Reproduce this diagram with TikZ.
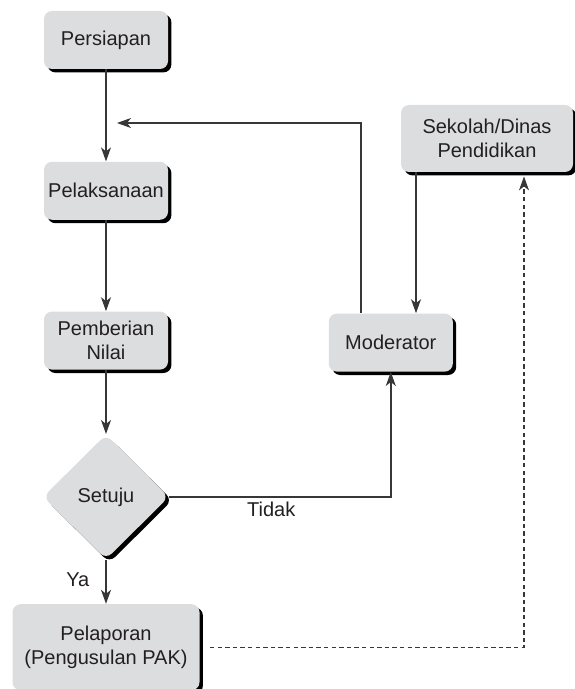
\documentclass[tikz,border=0pt]{standalone}
\usepackage{fontspec}
\setmainfont{Liberation Sans}
\usepackage{xcolor}
\usepackage{tikz}
\usetikzlibrary{arrows.meta,positioning,shapes.geometric,shadows}
\definecolor{boxgray} {RGB}{220,221,223}
\definecolor{txtgray} {RGB}{35,31,32}
\definecolor{linegray}{RGB}{55,55,55}
\tikzset{
  procbox/.style={fill=boxgray, rounded corners=4pt, align=center,
                  minimum width=62pt, minimum height=29pt,
                  font=\fontsize{10}{12}\selectfont, text=txtgray, inner sep=2pt,
                  drop shadow={shadow xshift=1.7pt, shadow yshift=-1.7pt,
                               fill=black, opacity=1}},
  decbox/.style ={procbox, diamond, aspect=1, minimum width=63pt,
                  minimum height=62.5pt, inner sep=0pt},
  arr/.style    ={-{Stealth[length=7pt, width=5pt, inset=2pt]}, line width=0.7pt,
                  draw=linegray},
  darr/.style   ={arr, dash pattern=on 2.2pt off 1.6pt, line width=0.6pt},
  lbl/.style    ={font=\fontsize{10}{12}\selectfont, text=txtgray, inner sep=2pt},
}
\begin{document}
\begin{tikzpicture}[x=0.5pt, y=-0.5pt]
  \useasboundingbox (0,0) rectangle (574,689);
  \node[procbox] (persiapan) at (106,40) {Persiapan};
  \node[procbox, below=46pt of persiapan] (pelaksanaan) {Pelaksanaan};
  \node[procbox, below=45.5pt of pelaksanaan] (pemberian) {Pemberian\\Nilai};
  \node[decbox, below=32pt of pemberian] (setuju) {Setuju};
  \node[procbox, minimum width=93.5pt, minimum height=43pt,
        below=22pt of setuju] (pelaporan) {Pelaporan\\(Pengusulan PAK)};
  \node[procbox, right=80pt of pemberian, yshift=-1pt] (moderator) {Moderator};
  \node[procbox, minimum width=86pt, minimum height=33.5pt]
       (sekolah) at (487,138.5) {Sekolah/Dinas\\Pendidikan};
  \coordinate (balik) at (117,123);
  \draw[arr](persiapan)--(pelaksanaan);
  \draw[arr](pelaksanaan)--(pemberian);
  \draw[arr](pemberian)--(setuju);
  \draw[arr](setuju)--node[lbl, left, pos=0.45, xshift=-6pt]{Ya}(pelaporan);
  \draw[arr](setuju.east)-|node[lbl, below, pos=0.23]{Tidak}(moderator.south);
  \draw[arr]([xshift=-15pt]moderator.north)|-(balik);
  \draw[arr]([xshift=-35.5pt]sekolah.south)--([xshift=-35.5pt]sekolah.south|-moderator.north);
  \draw[darr]([xshift=5pt]pelaporan.east)-|([xshift=18.5pt, yshift=-2pt]sekolah.south);
\end{tikzpicture}
\end{document}
